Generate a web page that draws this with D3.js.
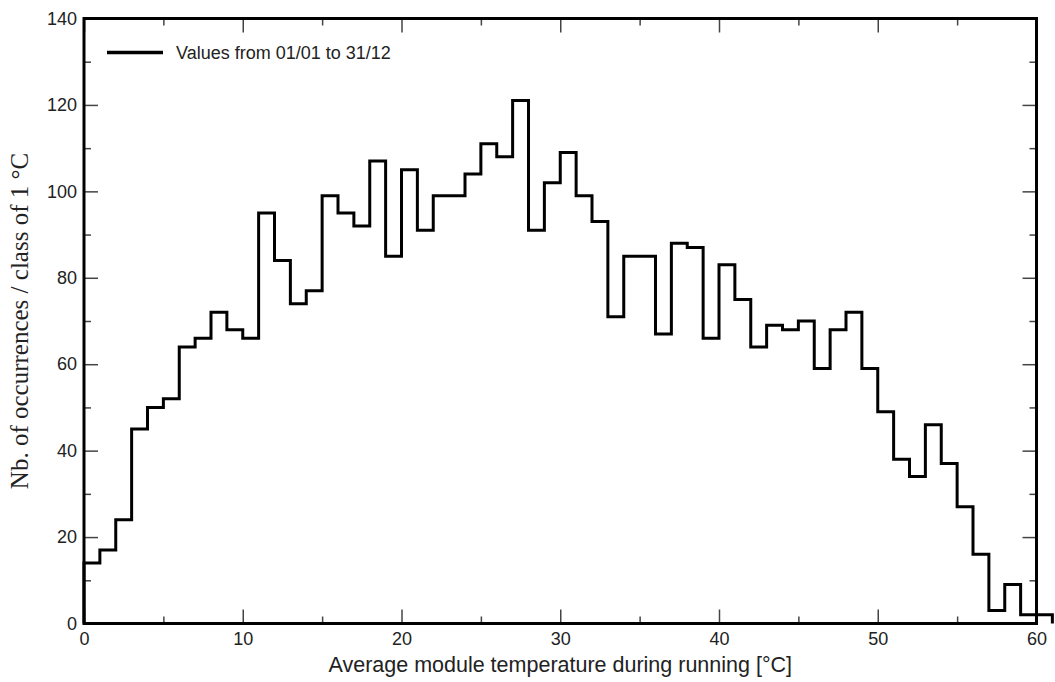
<!DOCTYPE html>
<html>
<head>
<meta charset="utf-8">
<script src="https://cdn.jsdelivr.net/npm/d3@7"></script>
<style>
  html, body { margin: 0; padding: 0; background: #fff; }
  svg { display: block; }
  .tick text { font-family: "Liberation Sans", Arial, sans-serif; font-size: 18px; fill: #222; }
</style>
</head>
<body>
<svg id="chart"></svg>
<script>
// class lower bounds in degC (bin width 1)
const binStarts = d3.range(0, 61);
const counts = [14, 17, 24, 45, 50, 52, 64, 66, 72, 68,
                66, 95, 84, 74, 77, 99, 95, 92, 107, 85,
                105, 91, 99, 99, 104, 111, 108, 121, 91, 102,
                109, 99, 93, 71, 85, 85, 67, 88, 87, 66,
                83, 75, 64, 69, 68, 70, 59, 68, 72, 59,
                49, 38, 34, 46, 37, 27, 16, 3, 9, 2,
                2];
const xMajor = [0, 10, 20, 30, 40, 50, 60];
const xMinor = [5, 15, 25, 35, 45, 55];
const yMajor = [0, 20, 40, 60, 80, 100, 120, 140];
const yMinor = [10, 30, 50, 70, 90, 110, 130];
const legendLabel = "Values from 01/01 to 31/12";

const width = 1055, height = 682;
const margin = {top: 18.5, right: 18.5, bottom: 58.5, left: 84};

const svg = d3.select("#chart").attr("width", width).attr("height", height);

const x = d3.scaleLinear().domain([0, 60]).range([margin.left, width - margin.right]);
const y = d3.scaleLinear().domain([0, 140]).range([height - margin.bottom, margin.top]);

const bottom = height - margin.bottom, right = width - margin.right;

function tickStyle(g) {
  g.select(".domain").remove();
  g.selectAll(".tick line").attr("stroke", "#444").attr("stroke-width", 1.5);
}

// bottom axis (labels + inward ticks)
svg.append("g").attr("transform", `translate(0,${bottom})`)
  .call(d3.axisBottom(x).tickValues(xMajor).tickSizeInner(-14).tickSizeOuter(0).tickPadding(9).tickFormat(d3.format("d")))
  .call(tickStyle);
svg.append("g").attr("transform", `translate(0,${bottom})`)
  .call(d3.axisBottom(x).tickValues(xMinor).tickSizeInner(-7).tickSizeOuter(0).tickFormat(""))
  .call(tickStyle);
// top mirror
svg.append("g").attr("transform", `translate(0,${margin.top})`)
  .call(d3.axisTop(x).tickValues(xMajor).tickSizeInner(-14).tickSizeOuter(0).tickFormat(""))
  .call(tickStyle);
svg.append("g").attr("transform", `translate(0,${margin.top})`)
  .call(d3.axisTop(x).tickValues(xMinor).tickSizeInner(-7).tickSizeOuter(0).tickFormat(""))
  .call(tickStyle);

// left axis
svg.append("g").attr("transform", `translate(${margin.left},0)`)
  .call(d3.axisLeft(y).tickValues(yMajor).tickSizeInner(-14).tickSizeOuter(0).tickPadding(7).tickFormat(d3.format("d")))
  .call(tickStyle);
svg.append("g").attr("transform", `translate(${margin.left},0)`)
  .call(d3.axisLeft(y).tickValues(yMinor).tickSizeInner(-7).tickSizeOuter(0).tickFormat(""))
  .call(tickStyle);
// right mirror
svg.append("g").attr("transform", `translate(${right},0)`)
  .call(d3.axisRight(y).tickValues(yMajor).tickSizeInner(-14).tickSizeOuter(0).tickFormat(""))
  .call(tickStyle);
svg.append("g").attr("transform", `translate(${right},0)`)
  .call(d3.axisRight(y).tickValues(yMinor).tickSizeInner(-7).tickSizeOuter(0).tickFormat(""))
  .call(tickStyle);

// frame
svg.append("rect")
  .attr("x", margin.left).attr("y", margin.top)
  .attr("width", right - margin.left).attr("height", bottom - margin.top)
  .attr("fill", "none").attr("stroke", "#000").attr("stroke-width", 3);

// histogram as step line
const last = binStarts.length - 1;
const pts = [{x: 0, y: 0}]
  .concat(binStarts.map((b, i) => ({x: b, y: counts[i]})))
  .concat([{x: binStarts[last] + 1, y: counts[last]}, {x: binStarts[last] + 1, y: 0}]);

const step = d3.line().x(d => x(d.x)).y(d => y(d.y)).curve(d3.curveStepAfter);

svg.append("path")
  .attr("d", step(pts))
  .attr("fill", "none")
  .attr("stroke", "#000")
  .attr("stroke-width", 3)
  .attr("stroke-linejoin", "miter");

// legend
svg.append("line")
  .attr("x1", 107).attr("x2", 163).attr("y1", 52.5).attr("y2", 52.5)
  .attr("stroke", "#000").attr("stroke-width", 3.5);
svg.append("text")
  .attr("x", 176).attr("y", 58.5)
  .attr("font-family", "Liberation Sans, Arial, sans-serif").attr("font-size", 18).attr("fill", "#222")
  .text(legendLabel);

// axis titles
svg.append("text")
  .attr("x", (margin.left + right) / 2).attr("y", 672)
  .attr("text-anchor", "middle")
  .attr("font-family", "Liberation Sans, Arial, sans-serif").attr("font-size", 21.5).attr("fill", "#222")
  .text("Average module temperature during running [°C]");

svg.append("text")
  .attr("transform", `translate(28,${(margin.top + bottom) / 2}) rotate(-90)`)
  .attr("text-anchor", "middle")
  .attr("font-family", "Liberation Serif, Times New Roman, serif").attr("font-size", 25).attr("fill", "#222")
  .text("Nb. of occurrences / class of 1 °C");
</script>
</body>
</html>
